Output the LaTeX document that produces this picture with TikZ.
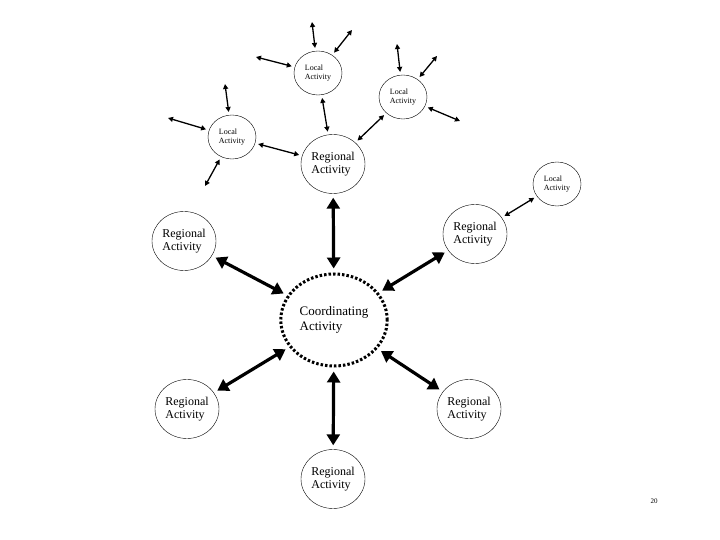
\documentclass[tikz,border=0pt]{standalone}
\usepackage{fontspec}
\setmainfont{Liberation Serif}
\usetikzlibrary{arrows.meta,shapes.geometric}
\begin{document}
\begin{tikzpicture}[x=1pt,y=-1pt,
  reg/.style={draw,ellipse,minimum width=64pt,minimum height=59pt,inner sep=0pt,align=left,font=\fontsize{12}{13}\selectfont},
  loc/.style={draw,ellipse,minimum width=48pt,minimum height=44pt,inner sep=0pt,align=left,font=\fontsize{8}{9}\selectfont},
  big/.style={line width=3.2pt,{Triangle[length=11pt,width=13pt]}-{Triangle[length=11pt,width=13pt]},shorten <=4pt,shorten >=4pt},
  thin/.style={line width=1.3pt,{Triangle[length=5pt,width=5pt]}-{Triangle[length=5pt,width=5pt]}},
  lk/.style={thin,shorten <=3pt,shorten >=3pt}]
\useasboundingbox (0,0) rectangle (720,540);
\node[ellipse,draw,line width=3pt,dash pattern=on 2.5pt off 2pt,minimum width=100pt,minimum height=92pt,align=left,font=\fontsize{13}{15}\selectfont] (c) at (334,320) {Coordinating\\Activity};
\node[reg] (rt) at (333,164) {Regional\\Activity};
\node[reg] (rl) at (184,241) {Regional\\Activity};
\node[reg] (rr) at (475,234) {Regional\\Activity};
\node[reg] (rbl) at (187,409) {Regional\\Activity};
\node[reg] (rbr) at (469,409) {Regional\\Activity};
\node[reg] (rb) at (333,479) {Regional\\Activity};
\node[loc] (lt) at (318,73) {Local\\Activity};
\node[loc] (lr) at (403,97) {Local\\Activity};
\node[loc] (ll) at (232,137) {Local\\Activity};
\node[loc] (lf) at (557,184) {Local\\Activity};
\node[font=\fontsize{7}{8}\selectfont] (pg) at (654,501) {20};
\draw[big] (c) -- (rt);
\draw[big] (c) -- (rl);
\draw[big] (c) -- (rr);
\draw[big] (c) -- (rbl);
\draw[big] (c) -- (rbr);
\draw[big] (c) -- (rb);
\draw[lk] (lt) -- (rt);
\draw[lk] (lr) -- (rt);
\draw[lk] (ll) -- (rt);
\draw[lk] (lf) -- (rr);
\coordinate (a1) at (312,22); \coordinate (a2) at (352,30); \coordinate (a3) at (256,57);
\coordinate (b1) at (397,44); \coordinate (b2) at (437,56); \coordinate (b3) at (460,121);
\coordinate (d1) at (225,84); \coordinate (d2) at (168,118); \coordinate (d3) at (205,186);
\draw[thin,shorten >=3pt] (a1) -- (lt);
\draw[thin,shorten >=3pt] (a2) -- (lt);
\draw[thin,shorten >=3pt] (a3) -- (lt);
\draw[thin,shorten >=3pt] (b1) -- (lr);
\draw[thin,shorten >=3pt] (b2) -- (lr);
\draw[thin,shorten >=3pt] (b3) -- (lr);
\draw[thin,shorten >=3pt] (d1) -- (ll);
\draw[thin,shorten >=3pt] (d2) -- (ll);
\draw[thin,shorten >=3pt] (d3) -- (ll);
\end{tikzpicture}
\end{document}
